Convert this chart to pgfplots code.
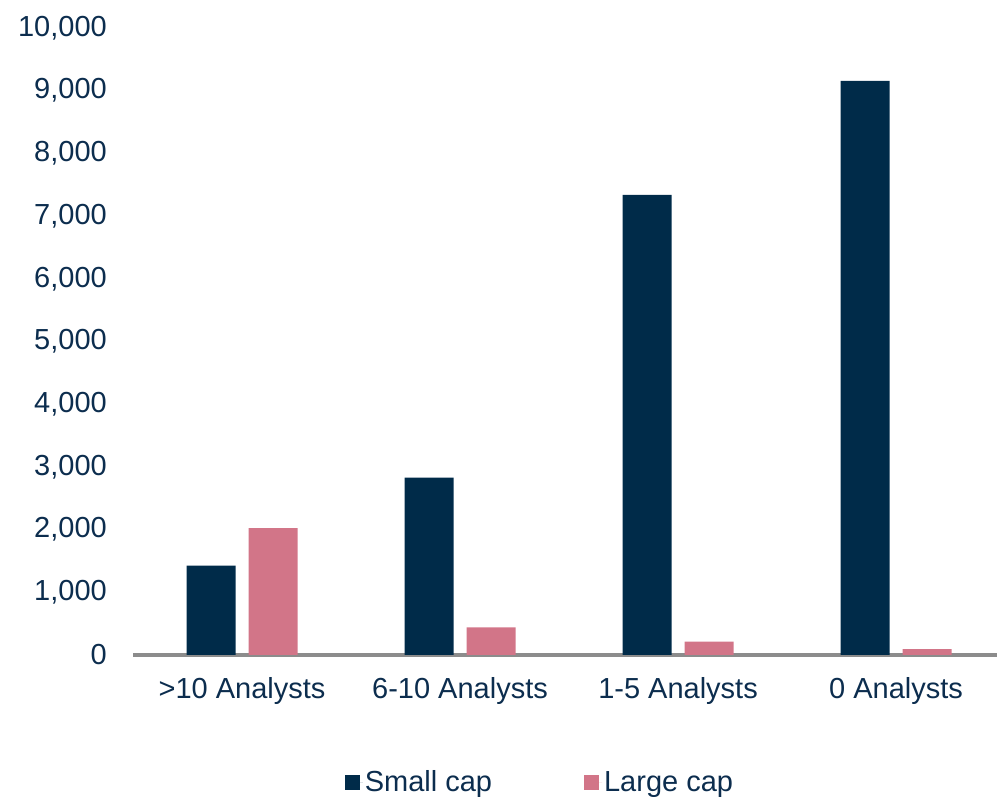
\documentclass[border=0pt]{standalone}
\usepackage{pgfplots}
\pgfplotsset{compat=1.18}
\usepackage{fontspec}
\setmainfont{Liberation Sans}
\definecolor{navy}{HTML}{002B49}
\definecolor{pinkc}{HTML}{D27588}
\definecolor{txt}{HTML}{0C2D4E}
\definecolor{axgray}{HTML}{8C8C8C}
\begin{document}
\begin{tikzpicture}
\useasboundingbox (0,0) rectangle (997bp,797bp);
\begin{axis}[
  at={(133bp,142bp)}, anchor=south west,
  scale only axis, width=864bp, height=627bp,
  xmin=-0.5, xmax=3.463, ymin=0, ymax=10000,
  enlargelimits=false,
  ybar=13bp, bar width=49bp,
  xtick={0,1,2,3},
  xticklabels={{>10 Analysts},{6-10 Analysts},{1-5 Analysts},{0 Analysts}},
  ytick={0,1000,...,10000},
  scaled y ticks=false,
  major tick length=0pt,
  xtick style={draw=none}, ytick style={draw=none},
  axis x line*=bottom, axis y line*=left,
  x axis line style={draw=axgray, line width=3bp, -},
  y axis line style={draw=none},
  ticklabel style={font=\fontsize{29bp}{34bp}\selectfont, text=txt},
  /pgf/number format/assume math mode=true,
  /pgf/number format/.cd, 1000 sep={,}, fixed, /pgfplots/.cd,
  yticklabel style={anchor=east, inner sep=0pt, xshift=-26bp},
  xticklabel style={anchor=north, inner sep=0pt, yshift=-22bp},
  legend style={at={(0.4710,-0.2026)}, anchor=center, draw=none, fill=none,
    legend columns=2, font=\fontsize{29bp}{34bp}\selectfont, text=txt,
    /tikz/every even column/.append style={column sep=90bp}},
  legend image code/.code={\fill[#1] (0bp,-7.5bp) rectangle (15bp,7.5bp); \path (15bp,0) -- (18bp,0);},
]
\addplot[fill=navy, draw=none] coordinates {(0,1425) (1,2830) (2,7340) (3,9155)};
\addplot[fill=pinkc, draw=none] coordinates {(0,2025) (1,440) (2,215) (3,92)};
\legend{Small cap, Large cap}
\end{axis}
\end{tikzpicture}
\end{document}
